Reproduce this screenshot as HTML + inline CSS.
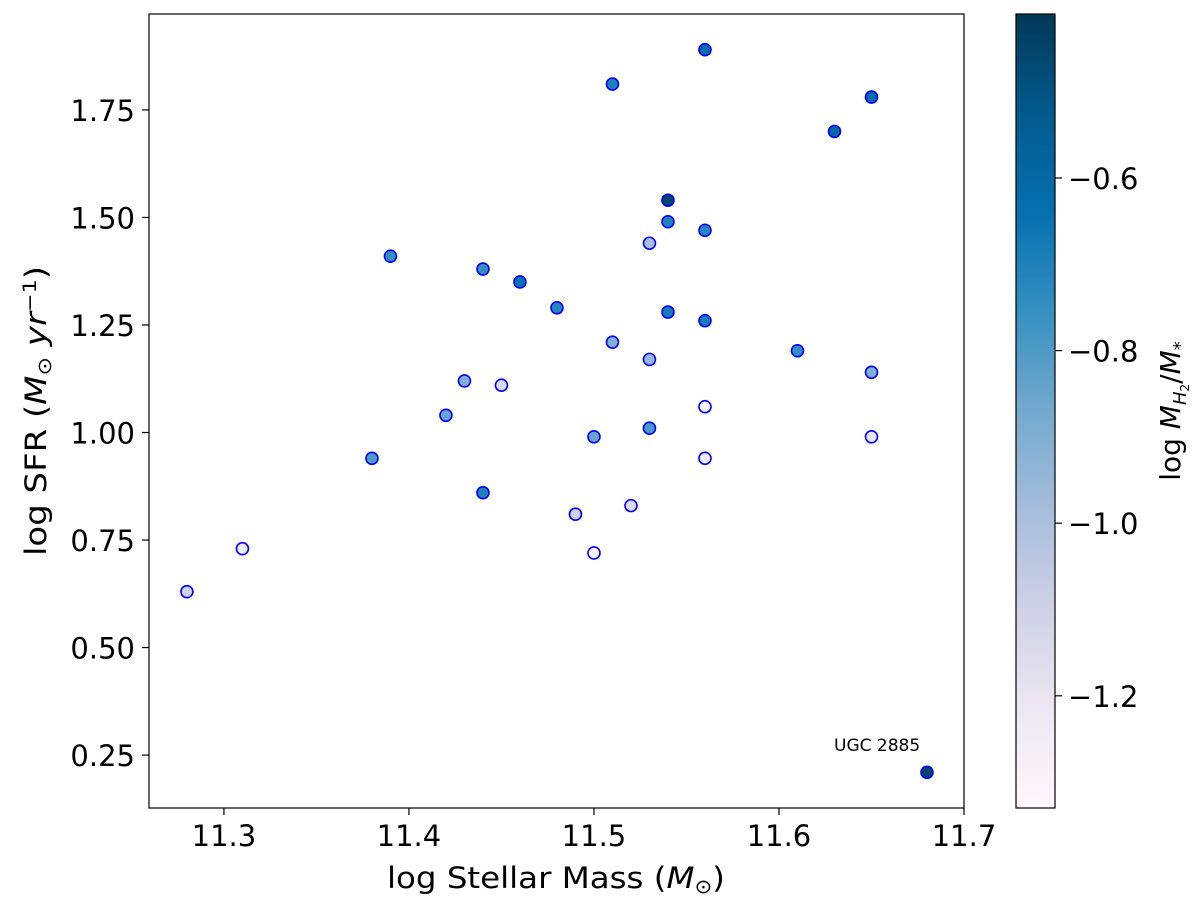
<!DOCTYPE html>
<html><head><meta charset="utf-8"><style>
body{margin:0;background:#fff}
svg{display:block;font-family:"DejaVu Sans","Liberation Sans",sans-serif}
</style></head><body>
<svg id="chart" width="1200" height="905" viewBox="0 0 1200 905">
<defs><linearGradient id="pubu" x1="0" y1="1" x2="0" y2="0">
<stop offset="0" stop-color="#fff7fb"/><stop offset="0.125" stop-color="#ece7f2"/><stop offset="0.25" stop-color="#d0d1e6"/><stop offset="0.375" stop-color="#a6bddb"/><stop offset="0.5" stop-color="#74a9cf"/><stop offset="0.625" stop-color="#3690c0"/><stop offset="0.75" stop-color="#0570b0"/><stop offset="0.875" stop-color="#045a8d"/><stop offset="1" stop-color="#023858"/></linearGradient></defs>
<g id="marks"></g>
<rect x="149" y="14" width="815" height="794" fill="none" stroke="#000" stroke-width="1.2"/>
<g id="xt"></g><g id="yt"></g>
<text x="556" y="888" font-size="29" text-anchor="middle" textLength="338" lengthAdjust="spacingAndGlyphs">log Stellar Mass (<tspan font-style="italic">M</tspan><tspan font-size="19" dy="5">⊙</tspan><tspan dy="-5">)</tspan></text>
<text transform="translate(46,411) rotate(-90)" font-size="29" text-anchor="middle" textLength="290" lengthAdjust="spacingAndGlyphs">log SFR (<tspan font-style="italic">M</tspan><tspan font-size="19" dy="5">⊙</tspan><tspan dy="-5" font-style="italic"> yr</tspan><tspan font-size="19" dy="-10">−1</tspan><tspan dy="10">)</tspan></text>
<text x="834" y="751" font-size="17">UGC 2885</text>
<rect x="1016" y="14" width="39" height="794" fill="url(#pubu)" stroke="#000" stroke-width="1.2"/>
<g id="ct"></g>
<text transform="translate(1180,411) rotate(-90)" font-size="28" text-anchor="middle">log <tspan font-style="italic">M</tspan><tspan font-size="18" dy="6" font-style="italic">H</tspan><tspan font-size="12" dy="3">2</tspan><tspan dy="-9">/</tspan><tspan font-style="italic">M</tspan><tspan font-size="18" dy="6">*</tspan></text>
</svg>
<script>
const massX=[11.28,11.31,11.38,11.39,11.42,11.43,11.44,11.44,11.45,11.46,11.48,11.49,11.50,11.50,11.51,11.51,11.52,11.53,11.53,11.53,11.54,11.54,11.54,11.56,11.56,11.56,11.56,11.56,11.61,11.63,11.65,11.65,11.65,11.68];
const sfrY=[0.63,0.73,0.94,1.41,1.04,1.12,1.38,0.86,1.11,1.35,1.29,0.81,0.99,0.72,1.81,1.21,0.83,1.44,1.17,1.01,1.54,1.49,1.28,1.89,1.47,1.26,1.06,0.94,1.19,1.70,1.78,1.14,0.99,0.21];
const h2Ratio=[-1.1,-1.25,-0.8,-0.75,-0.85,-0.9,-0.75,-0.7,-1.15,-0.65,-0.72,-1.1,-0.85,-1.3,-0.7,-0.9,-1.15,-1.0,-0.95,-0.8,-0.45,-0.7,-0.68,-0.62,-0.72,-0.68,-1.3,-1.25,-0.75,-0.6,-0.62,-0.9,-1.2,-0.45];
const xTicks=[11.3,11.4,11.5,11.6,11.7];
const yTicks=[0.25,0.5,0.75,1.0,1.25,1.5,1.75];
const cTicks=[-0.6,-0.8,-1.0,-1.2];
const NS="http://www.w3.org/2000/svg";
const xs=v=>149+(v-11.2595)/0.4405*815;
const ys=v=>14+(1.973-v)/1.846*794;
const cs=v=>14+(-0.41-v)/0.92*794;
const stops=[[255,247,251],[236,231,242],[208,209,230],[166,189,219],[116,169,207],[54,144,192],[5,112,176],[4,90,141],[2,56,88]];
function cmap(v){let t=Math.max(0,Math.min(1,(v+1.33)/0.92))*8;let i=Math.min(7,Math.floor(t)),f=t-i;const a=stops[i],b=stops[i+1];return `rgb(${a.map((c,k)=>Math.round(c+(b[k]-c)*f)).join(',')})`;}
function el(t,attrs,parent,txt){const e=document.createElementNS(NS,t);for(const k in attrs)e.setAttribute(k,attrs[k]);if(txt!==undefined)e.textContent=txt;parent.appendChild(e);return e;}
const marks=document.getElementById('marks');
massX.forEach((m,i)=>{
const c=el('circle',{cx:xs(m),cy:ys(sfrY[i]),r:6,fill:cmap(h2Ratio[i]),stroke:'#0000ff','stroke-width':1.6},marks);


});
const xt=document.getElementById('xt');
xTicks.forEach(v=>{const x=xs(v);
el('line',{x1:x,x2:x,y1:808,y2:815,stroke:'#000','stroke-width':1.2},xt);
const t=el('text',{x:x,y:846,'font-size':29,'text-anchor':'middle'},xt,v.toFixed(1));

});
const yt=document.getElementById('yt');
yTicks.forEach(v=>{const y=ys(v);
el('line',{x1:142,x2:149,y1:y,y2:y,stroke:'#000','stroke-width':1.2},yt);
const t=el('text',{x:135,y:y+11,'font-size':29,'text-anchor':'end'},yt,v.toFixed(2));

});
const ct=document.getElementById('ct');
cTicks.forEach(v=>{const y=cs(v);
el('line',{x1:1055,x2:1062,y1:y,y2:y,stroke:'#000','stroke-width':1.2},ct);
const t=el('text',{x:1068,y:y+11,'font-size':29},ct,'−'+Math.abs(v).toFixed(1));

});
</script>
</body></html>
